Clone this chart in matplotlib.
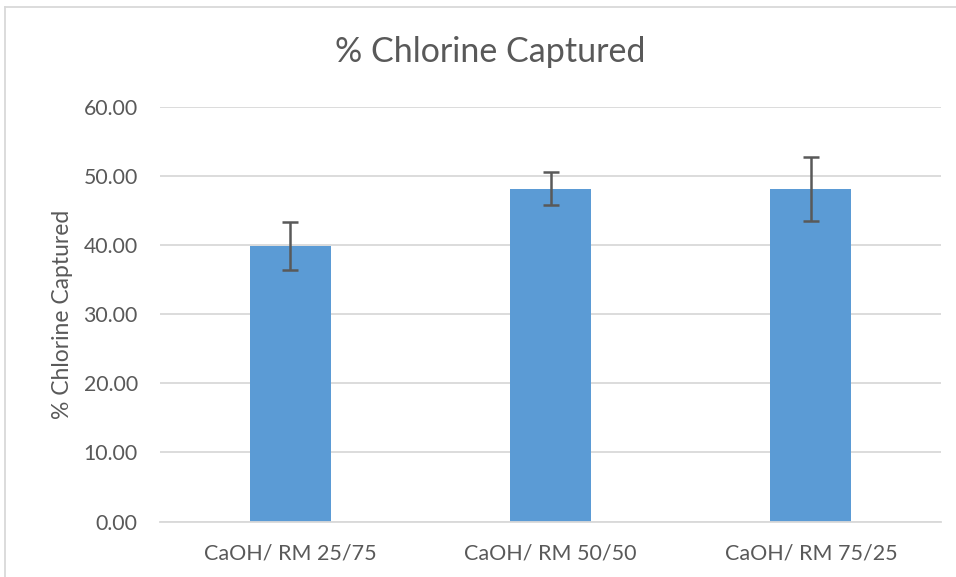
import matplotlib
matplotlib.use("Agg")
import matplotlib.pyplot as plt
from matplotlib.lines import Line2D

categories = ["CaOH/ RM 25/75", "CaOH/ RM 50/50", "CaOH/ RM 75/25"]
values = [39.86, 48.2, 48.15]
errors = [3.5, 2.35, 4.6]
yticks = [0, 10, 20, 30, 40, 50, 60]

plt.rcParams['font.family'] = ['Lato', 'DejaVu Sans']
text_color = '#595959'

fig = plt.figure(figsize=(9.56, 5.77), dpi=100)
ax = fig.add_axes([160/956, 1-521.5/577, 781/956, (521.5-107)/577])

x = list(range(len(categories)))
ax.bar(x, values, width=0.31, color='#5B9BD5', zorder=2)
ax.errorbar(x, values, yerr=errors, fmt='none', ecolor='#595959', elinewidth=1.8,
            capsize=6, capthick=1.8, zorder=3)

ax.set_xlim(-0.5, 2.5)
ax.set_ylim(0, 60)
ax.set_yticks(yticks)
ax.set_yticklabels([f"{v:.2f}" for v in yticks])
ax.set_xticks(x)
ax.set_xticklabels(categories)
ax.tick_params(axis='both', length=0, colors=text_color)
ax.tick_params(axis='y', pad=16, labelsize=15.3)
ax.tick_params(axis='x', pad=16, labelsize=15.5)
ax.grid(axis='y', color='#D9D9D9', linewidth=1.3, zorder=0)
for s in ['top', 'right', 'left']:
    ax.spines[s].set_visible(False)
ax.spines['bottom'].set_color('#D9D9D9')
ax.spines['bottom'].set_linewidth(1.3)

ax.set_ylabel('% Chlorine Captured', fontsize=16.5, color=text_color)
ax.yaxis.set_label_coords((73-160)/781, 0.5)
fig.text(490/956, 1-52/577, '% Chlorine Captured', fontsize=24.5, color=text_color,
         ha='center', va='center')

# chart border (cropped Excel chart area)
fig.add_artist(Line2D([5/956, 5/956], [0, 1-7/577], transform=fig.transFigure,
                      color='#D9D9D9', linewidth=1.3))
fig.add_artist(Line2D([5/956, 1], [1-7/577, 1-7/577], transform=fig.transFigure,
                      color='#D9D9D9', linewidth=1.3))

fig.savefig('out.png', dpi=100)
